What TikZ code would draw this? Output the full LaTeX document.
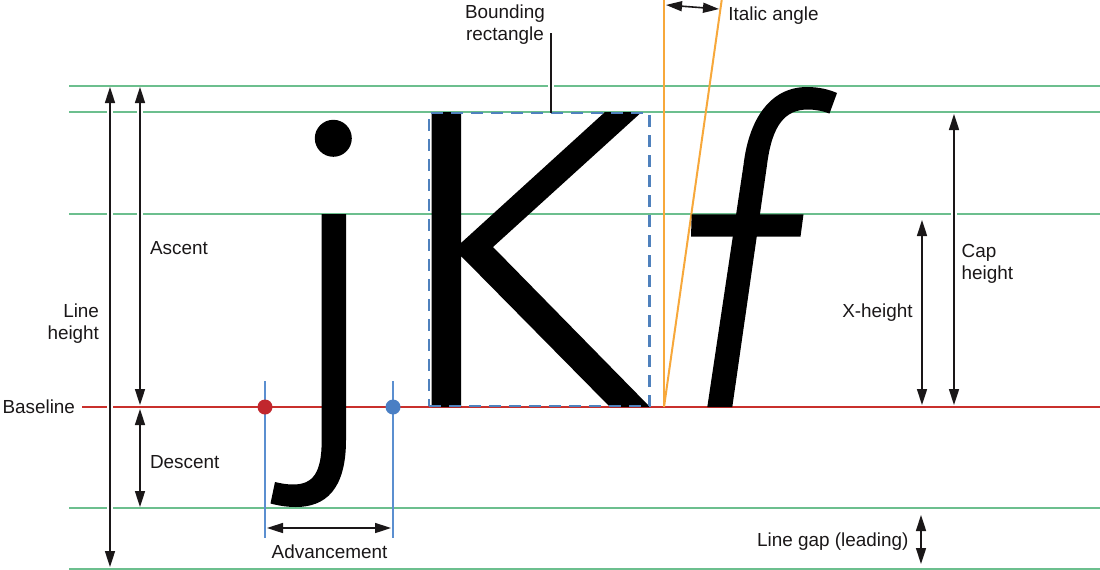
\documentclass[tikz,border=0pt]{standalone}
\usepackage{fontspec}
\setmainfont{Liberation Sans}
\usetikzlibrary{arrows.meta}
\definecolor{guide}{HTML}{6CBF8E}
\definecolor{baser}{HTML}{C9302C}
\definecolor{italo}{HTML}{F7A83B}
\definecolor{boxblue}{HTML}{4F81BD}
\definecolor{advblue}{HTML}{5B8FD0}
\definecolor{dotr}{HTML}{C1272D}
\definecolor{dotb}{HTML}{4A7FC4}
\definecolor{ink}{HTML}{1A1718}
\begin{document}
\begin{tikzpicture}[x=1pt,y=-1pt,
  every node/.style={inner sep=0pt, outer sep=0pt, font=\fontsize{18.9}{22}\selectfont, text=ink},
  guideline/.style={draw=guide, line width=2pt},
  baseline/.style={draw=baser, line width=2.6pt},
  halo/.style={preaction={draw=white, line width=6pt, arrows=-, shorten <=#1, shorten >=#1}},
  dimarrow/.style={draw=ink, line width=1.6pt, {Triangle[length=16pt,width=10pt]}-{Triangle[length=16pt,width=10pt]}},
  leader/.style={draw=ink, line width=1.6pt},
  italicline/.style={draw=italo, line width=2pt},
  advline/.style={draw=advblue, line width=1.4pt},
  glyph/.style={fill=black},
  boundbox/.style={draw=boxblue, line width=2.5pt, dash pattern=on 12pt off 8pt},
  metricdot/.style={circle, minimum size=15pt}
]
\useasboundingbox (0,0) rectangle (1100,570);

% guide lines
\foreach \yy/\nm in {86/gA, 112/gB, 214/gC, 508/gD, 569/gE}{
  \coordinate (\nm-l) at (69,\yy);
  \coordinate (\nm-r) at (1100,\yy);
  \draw[guideline] (\nm-l) -- (\nm-r);
}
\coordinate (base-l) at (82,407);
\coordinate (base-r) at (1100,407);
\draw[baseline] (base-l) -- (base-r);

% dimension arrows
\coordinate (lh-t) at (110,87);   \coordinate (lh-b) at (110,567);
\coordinate (as-t) at (140,87);   \coordinate (as-b) at (140,405);
\coordinate (de-t) at (140,409);  \coordinate (de-b) at (140,507);
\coordinate (xh-t) at (922,220);  \coordinate (xh-b) at (922,405);
\coordinate (ch-t) at (954,114);  \coordinate (ch-b) at (954,405);
\coordinate (lg-t) at (921,515);  \coordinate (lg-b) at (921,564);
\coordinate (ad-l) at (267,528);  \coordinate (ad-r) at (391,528);
\coordinate (ia-l) at (666,5);    \coordinate (ia-r) at (719,9);

\draw[dimarrow, halo=20pt] (lh-t) -- (lh-b);
\draw[dimarrow, halo=20pt] (as-t) -- (as-b);
\draw[dimarrow] (de-t) -- (de-b);
\draw[dimarrow] (xh-t) -- (xh-b);
\draw[dimarrow, halo=20pt] (ch-t) -- (ch-b);
\draw[dimarrow] (lg-t) -- (lg-b);
\draw[dimarrow] (ad-l) -- (ad-r);
\draw[dimarrow] (ia-l) -- (ia-r);

% italic angle lines
\coordinate (ia-o) at (664,407);
\coordinate (ia-v) at (664,0);
\coordinate (ia-s) at (721.7,0);
\draw[italicline] (ia-o) -- (ia-v);
\draw[italicline] (ia-o) -- (ia-s);

% glyph j
\fill[glyph] (333.3,138.3) circle[radius=18.5];
\fill[glyph] (321.7,214) -- (346,214) -- (346,440)
  .. controls (346,490) and (325,507) .. (296,507)
  .. controls (286,507) and (278,505.5) .. (270.5,503.5)
  -- (275,482)
  .. controls (281,483.5) and (287,484.5) .. (293,484.5)
  .. controls (313,484.5) and (321.7,473) .. (321.7,440) -- cycle;

% glyph K
\fill[glyph] (431.7,112) -- (461,112) -- (461,243) -- (605,112) -- (641.7,112)
  -- (493,247) -- (650,407) -- (610,407) -- (461,256) -- (461,407) -- (431.7,407) -- cycle;

% glyph f (italic)
\fill[glyph] (707.3,407) -- (743.5,165)
  .. controls (749,118) and (771,87) .. (807,87)
  .. controls (819,87) and (829,89.5) .. (837,93)
  -- (829.5,113.5)
  .. controls (823,111) and (815,109.5) .. (808,109.5)
  .. controls (785,109.5) and (772,125) .. (767,165)
  -- (732.3,407) -- cycle;
\fill[glyph] (691.7,214.3) -- (803.5,214.3) -- (800.5,236.7) -- (691,236.7) -- cycle;

% advancement lines and dots
\coordinate (av1-t) at (265,381); \coordinate (av1-b) at (265,538);
\coordinate (av2-t) at (393,381); \coordinate (av2-b) at (393,538);
\draw[advline] (av1-t) -- (av1-b);
\draw[advline] (av2-t) -- (av2-b);
\node[metricdot, fill=dotr] (origin) at (265,407) {};
\node[metricdot, fill=dotb] (advance) at (393,407) {};

% bounding rectangle
\node[boundbox, minimum width=220.5pt, minimum height=293pt] (bbox) at (539.25,259.5) {};
\coordinate (lead-t) at (551,33);
\draw[leader, halo=8pt] (lead-t) -- (lead-t |- bbox.north);

% labels
\node[anchor=base east] (lbl-base) at (75,413.8) {Baseline};
\node[anchor=base east, align=right] (lbl-lh) at (99,339.3) {Line\\height};
\node[anchor=base west] (lbl-asc) at (150,254.3) {Ascent};
\node[anchor=base west] (lbl-desc) at (150,468.3) {Descent};
\node[anchor=base] (lbl-adv) at (329.5,558.3) {Advancement};
\node[anchor=base, align=center] (lbl-bbox) at (505,40.3) {Bounding\\rectangle};
\node[anchor=base west] (lbl-ital) at (728.3,20.7) {Italic angle};
\node[anchor=base east] (lbl-xh) at (912.7,317.3) {X-height};
\node[anchor=base west, align=left] (lbl-cap) at (961.7,279) {Cap\\height};
\node[anchor=base east] (lbl-gap) at (908.5,546) {Line gap (leading)};
\end{tikzpicture}
\end{document}
